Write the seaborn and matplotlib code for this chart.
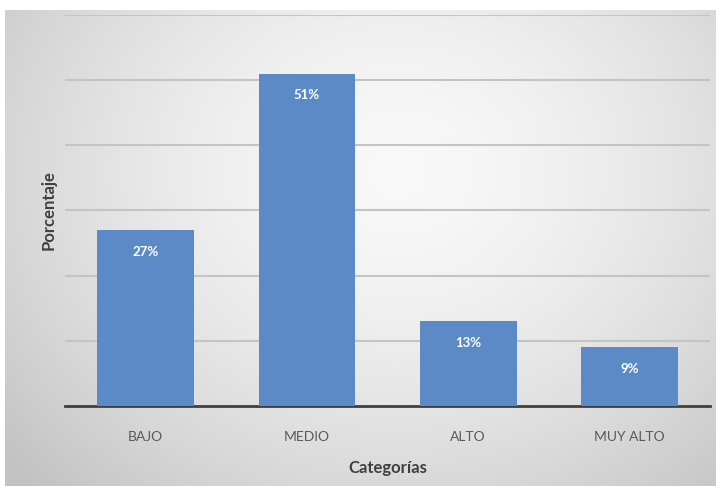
import numpy as np
import pandas as pd
import matplotlib
matplotlib.use("Agg")
import matplotlib.pyplot as plt
import seaborn as sns

categorias = ["BAJO", "MEDIO", "ALTO", "MUY ALTO"]
porcentajes = [27, 51, 13, 9]
etiquetas = ["27%", "51%", "13%", "9%"]

sns.set_theme(style="white")
plt.rcParams['font.family'] = ['Lato', 'DejaVu Sans']

W, H = 721, 490
fig = plt.figure(figsize=(W / 100, H / 100), dpi=100)
fig.patch.set_facecolor("white")

# background gradient panel (lighter centre, darker edges)
yy, xx = np.mgrid[0:H, 0:W]
cx, cy = W * 0.55, H * 0.35
d = np.sqrt(((xx - cx) / (W * 0.6)) ** 2 + ((yy - cy) / (H * 0.75)) ** 2)
val = 0.975 - 0.16 * np.clip(d, 0, 1.2) ** 1.6
img = np.dstack([val, val, val, np.ones_like(val)])
mask = (xx < 5) | (yy < 10) | (xx > 715) | (yy > 485)
img[mask] = [1, 1, 1, 1]
fig.figimage(img, xo=0, yo=0, origin="upper", zorder=-10)

ax = fig.add_axes([65 / W, 1 - 406 / H, (710 - 65) / W, (406 - 15) / H])
ax.set_zorder(5)
ax.patch.set_alpha(0)

df = pd.DataFrame({"Categorías": categorias, "Porcentaje": porcentajes})
sns.barplot(data=df, x="Categorías", y="Porcentaje", color="#5B8AC7",
            saturation=1, width=0.6, ax=ax, zorder=3, edgecolor="none",
            linewidth=0)

ax.set_ylim(0, 60)
ax.set_xlim(-0.5, 3.5)
ax.set_yticks([10, 20, 30, 40, 50, 60])
ax.yaxis.grid(True, color="#c4c4c4", linewidth=1.5, zorder=0)
ax.set_axisbelow(True)
ax.tick_params(axis="y", left=False, labelleft=False)
ax.tick_params(axis="x", bottom=False, labelsize=10, colors="#595959", pad=12)
for s in ["top", "right", "left"]:
    ax.spines[s].set_visible(False)
ax.spines["bottom"].set_color("#3f3f3f")
ax.spines["bottom"].set_linewidth(2)

for i, (v, t) in enumerate(zip(porcentajes, etiquetas)):
    ax.annotate(t, xy=(i, v), xytext=(0, -15.5), textcoords="offset points",
                ha="center", va="center", color="white", fontsize=9.5,
                fontweight="bold", zorder=5)

ax.set_xlabel("Categorías", fontsize=12, fontweight="bold", color="#404040", labelpad=12)
ax.set_ylabel("Porcentaje", fontsize=12, fontweight="bold", color="#404040", labelpad=6)

fig.savefig("out.png", dpi=100)
